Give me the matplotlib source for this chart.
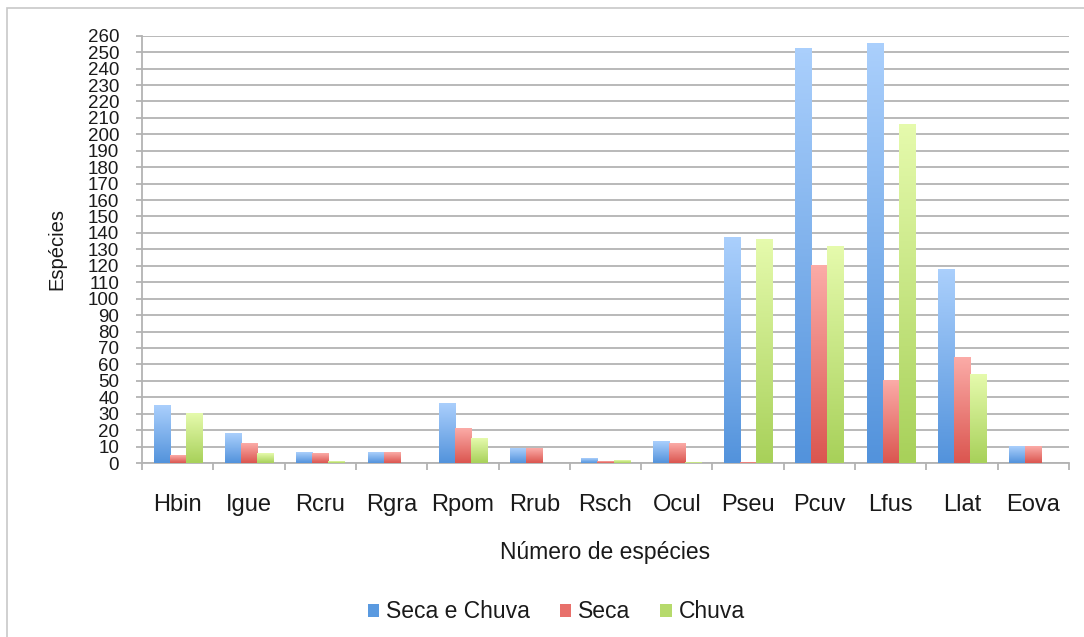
import matplotlib
matplotlib.use("Agg")
import matplotlib.pyplot as plt
import numpy as np
from matplotlib.colors import LinearSegmentedColormap
from matplotlib.patches import Patch, Rectangle

plt.rcParams['font.family'] = ['Liberation Sans', 'DejaVu Sans']

# data
categories = ["Hbin", "Igue", "Rcru", "Rgra", "Rpom", "Rrub", "Rsch",
              "Ocul", "Pseu", "Pcuv", "Lfus", "Llat", "Eova"]
seca_e_chuva = [35, 18, 6.5, 6.5, 36, 9, 2.7, 13, 137, 252, 255, 118, 10]
seca = [4.5, 12, 5.5, 6.5, 21, 9, 0.8, 12, 0.5, 120, 50, 64, 10]
chuva = [30, 5.5, 0.8, 0, 15, 0, 1.4, 0.4, 136, 132, 206, 54, 0]
series_names = ["Seca e Chuva", "Seca", "Chuva"]

# (top colour, bottom colour, legend colour)
colours = [("#aacffc", "#5393dc", "#5a9ae0"),
           ("#fbaba7", "#db5650", "#e8706b"),
           ("#e5faac", "#a8d15a", "#b6da6c")]

text_col = "#1a1a1a"
grid_col = "#b3b3b3"

fig = plt.figure(figsize=(10.84, 6.37), dpi=100)
ax = fig.add_axes([142 / 1084, 1 - 463 / 637, (1069 - 142) / 1084, (463 - 35.7) / 637])

# outer frame
fig.patches.append(Rectangle((7 / 1084, -0.05), 1.1, 1.05 - 8 / 637,
                             transform=fig.transFigure, fill=False,
                             edgecolor="#c8c8c8", lw=1.2))

x = np.arange(len(categories))
w = 0.225
grad = np.linspace(0, 1, 64).reshape(-1, 1)
for k, vals in enumerate([seca_e_chuva, seca, chuva]):
    top, bottom, _ = colours[k]
    cmap = LinearSegmentedColormap.from_list(f"g{k}", [bottom, top])
    bars = ax.bar(x + (k - 1) * w, vals, width=w, color="none", zorder=3)
    for b in bars:
        h = b.get_height()
        if h <= 0:
            continue
        x0 = b.get_x()
        ax.imshow(grad, extent=[x0, x0 + b.get_width(), 0, h], origin="lower",
                  aspect="auto", cmap=cmap, zorder=3, interpolation="bilinear")

ax.set_xlim(-0.5, len(categories) - 0.5)
ax.set_ylim(0, 260)
ax.set_yticks(np.arange(0, 261, 10))
ax.grid(axis="y", color=grid_col, lw=1.3, zorder=0)
ax.set_axisbelow(True)

for s in ["top", "right"]:
    ax.spines[s].set_visible(False)
ax.spines["left"].set_color(grid_col)
ax.spines["left"].set_linewidth(1.3)
ax.spines["bottom"].set_color(grid_col)
ax.spines["bottom"].set_linewidth(1.3)

ax.set_xticks(x)
ax.set_xticklabels(categories)
ax.set_xticks(np.arange(-0.5, len(categories), 1), minor=True)
ax.tick_params(axis="x", which="major", length=0, pad=22, labelsize=17, labelcolor=text_col)
ax.tick_params(axis="x", which="minor", length=5, width=1.3, color=grid_col)
ax.tick_params(axis="y", length=4.5, width=1.3, color=grid_col, labelsize=13.5,
               labelcolor=text_col, pad=12)

ax.set_ylabel("Espécies", fontsize=14.5, color=text_col, labelpad=15)
ax.set_xlabel("Número de espécies", fontsize=16.5, color=text_col, labelpad=18)

handles = [Patch(facecolor=c[2], edgecolor="none") for c in colours]
fig.legend(handles, series_names, loc="center", bbox_to_anchor=(0.513, 1 - 612 / 637),
           ncol=3, frameon=False, fontsize=16.5, handlelength=0.5, handleheight=0.5,
           handletextpad=0.3, columnspacing=1.3, labelcolor=text_col)

fig.savefig("out.png", dpi=100)
